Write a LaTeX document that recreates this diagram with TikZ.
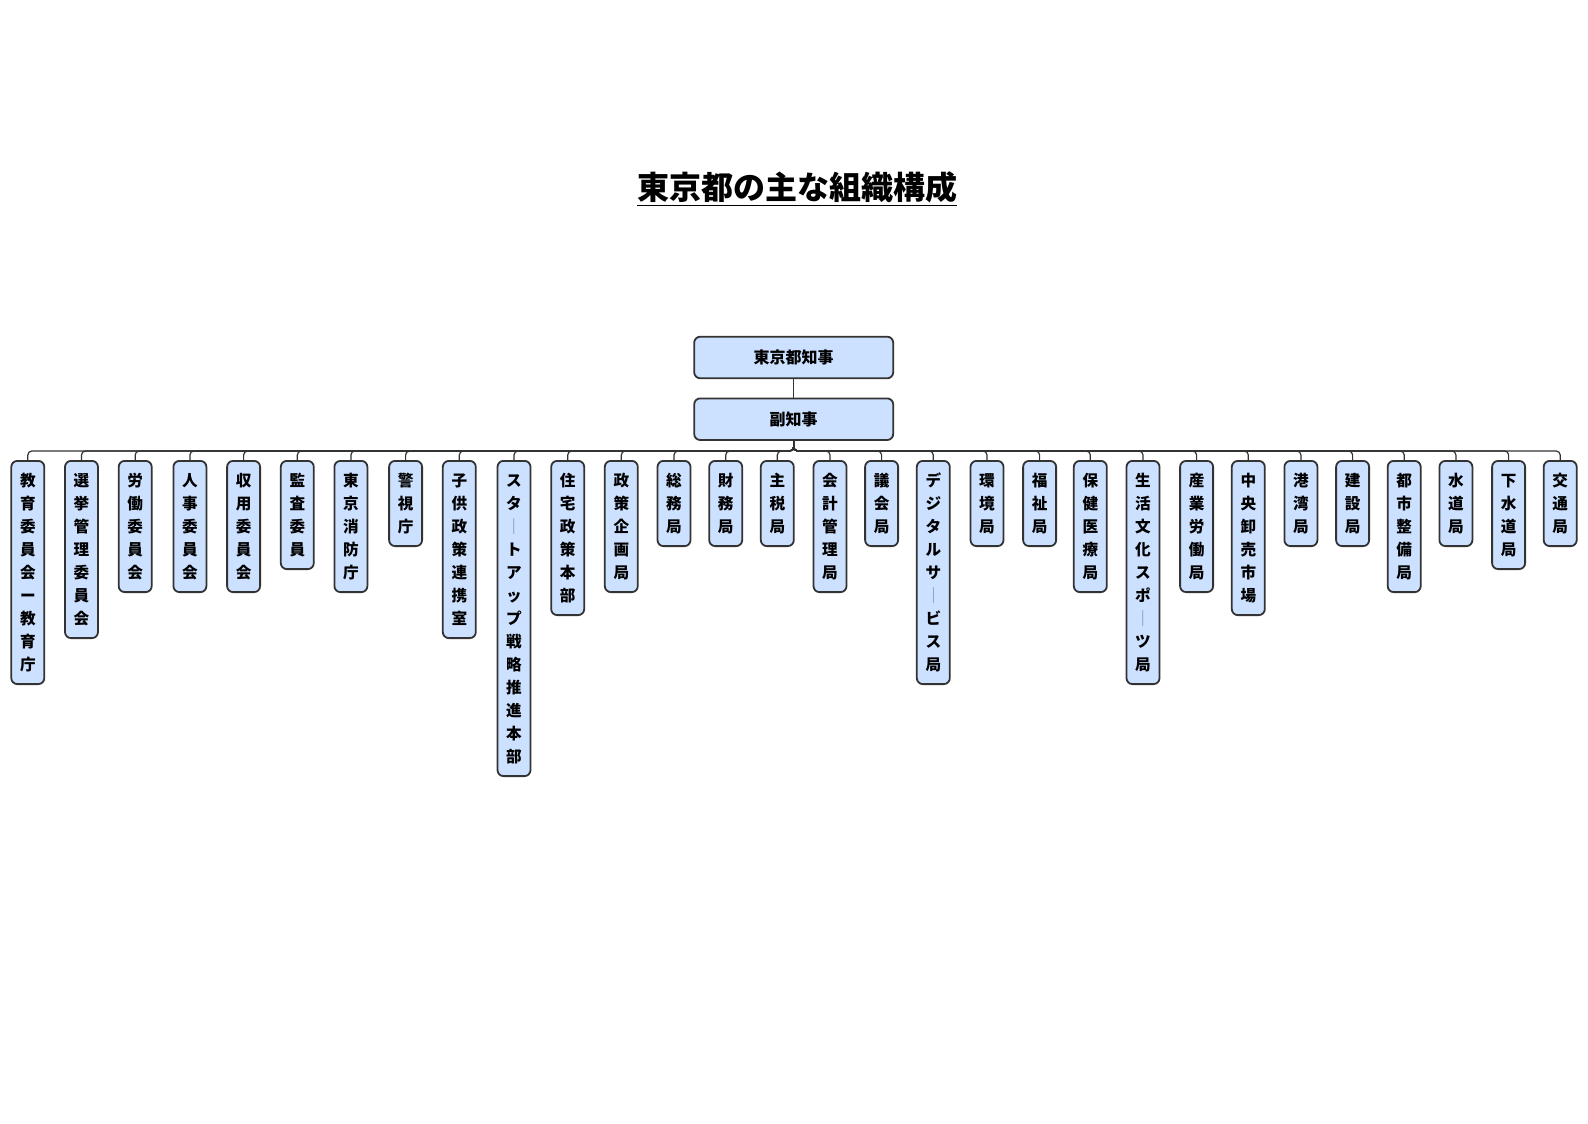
\documentclass[tikz,border=0pt]{standalone}
\usepackage{fontspec}
\setmainfont{Noto Sans CJK JP}
\usepackage{tikz}
\definecolor{boxblue}{HTML}{CCE0FF}
\definecolor{edge}{HTML}{333333}
\definecolor{barblue}{HTML}{6F86B8}
\newcommand{\chobar}{{\color{barblue}\mdseries ｜}}
\newcommand{\tate}[1]{\rule{0pt}{9.5pt}#1\rule[-3.3pt]{0pt}{3.3pt}}

\begin{document}
\begin{tikzpicture}[x=0.5pt, y=-0.5pt,
  head/.style={draw=edge, line width=0.9pt, fill=boxblue, rounded corners=3pt,
    minimum width=99.5pt, minimum height=20.8pt, font=\fontsize{8}{9.5}\selectfont\bfseries},
  dept/.style={draw=edge, line width=0.9pt, fill=boxblue, rounded corners=3pt, anchor=north,
    minimum width=16.5pt, inner xsep=0pt, inner ysep=3.4pt, align=center,
    font=\fontsize{7.8}{11.5}\selectfont\bfseries},
  link/.style={draw=edge, line width=0.6pt, rounded corners=2pt}]
  \useasboundingbox (0,0) rectangle (1588,1123);

  \node[font=\fontsize{16}{19}\selectfont\bfseries] (title) at (797,189) {\underline{東京都の主な組織構成}};
  \node[head] (chief) at (793.7,357.5) {東京都知事};
  \node[head] (vice) at (793.7,419.2) {副知事};
  \draw[link] (chief) -- (vice);

  \node[dept] (d1) at (27.8,460) {\tate{教\\育\\委\\員\\会\\ー\\教\\育\\庁}};
  \node[dept] (d2) at (81.5,460) {\tate{選\\挙\\管\\理\\委\\員\\会}};
  \node[dept] (d3) at (135.2,460) {\tate{労\\働\\委\\員\\会}};
  \node[dept] (d4) at (189.9,460) {\tate{人\\事\\委\\員\\会}};
  \node[dept] (d5) at (243.6,460) {\tate{収\\用\\委\\員\\会}};
  \node[dept] (d6) at (297.3,460) {\tate{監\\査\\委\\員}};
  \node[dept] (d7) at (350.9,460) {\tate{東\\京\\消\\防\\庁}};
  \node[dept] (d8) at (405.6,460) {\tate{警\\視\\庁}};
  \node[dept] (d9) at (459.3,460) {\tate{子\\供\\政\\策\\連\\携\\室}};
  \node[dept] (d10) at (514.0,460) {\tate{ス\\タ\\\chobar\\ト\\ア\\ッ\\プ\\戦\\略\\推\\進\\本\\部}};
  \node[dept] (d11) at (567.7,460) {\tate{住\\宅\\政\\策\\本\\部}};
  \node[dept] (d12) at (621.3,460) {\tate{政\\策\\企\\画\\局}};
  \node[dept] (d13) at (674.0,460) {\tate{総\\務\\局}};
  \node[dept] (d14) at (725.7,460) {\tate{財\\務\\局}};
  \node[dept] (d15) at (777.3,460) {\tate{主\\税\\局}};
  \node[dept] (d16) at (830.0,460) {\tate{会\\計\\管\\理\\局}};
  \node[dept] (d17) at (881.6,460) {\tate{議\\会\\局}};
  \node[dept] (d18) at (933.3,460) {\tate{デ\\ジ\\タ\\ル\\サ\\\chobar\\ビ\\ス\\局}};
  \node[dept] (d19) at (987.0,460) {\tate{環\\境\\局}};
  \node[dept] (d20) at (1039.6,460) {\tate{福\\祉\\局}};
  \node[dept] (d21) at (1090.3,460) {\tate{保\\健\\医\\療\\局}};
  \node[dept] (d22) at (1143.0,460) {\tate{生\\活\\文\\化\\ス\\ポ\\\chobar\\ツ\\局}};
  \node[dept] (d23) at (1196.6,460) {\tate{産\\業\\労\\働\\局}};
  \node[dept] (d24) at (1248.3,460) {\tate{中\\央\\卸\\売\\市\\場}};
  \node[dept] (d25) at (1300.9,460) {\tate{港\\湾\\局}};
  \node[dept] (d26) at (1352.6,460) {\tate{建\\設\\局}};
  \node[dept] (d27) at (1404.2,460) {\tate{都\\市\\整\\備\\局}};
  \node[dept] (d28) at (1455.9,460) {\tate{水\\道\\局}};
  \node[dept] (d29) at (1508.6,460) {\tate{下\\水\\道\\局}};
  \node[dept] (d30) at (1560.2,460) {\tate{交\\通\\局}};

  \coordinate (bus) at (0,451);
  \foreach \i in {1,...,30}
    \draw[link] (vice.south) -- (vice.south |- bus) -| (d\i.north);
\end{tikzpicture}
\end{document}
